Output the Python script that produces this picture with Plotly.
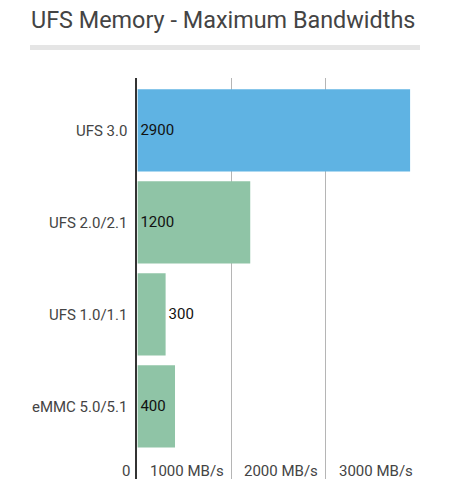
import plotly.graph_objects as go

categories = ["UFS 3.0", "UFS 2.0/2.1", "UFS 1.0/1.1", "eMMC 5.0/5.1"]
values = [2900, 1200, 300, 400]
bar_colors = ["#5fb3e3", "#8fc4a6", "#8fc4a6", "#8fc4a6"]
text_pos = ["inside", "inside", "outside", "inside"]
tick_vals = [0, 1000, 2000, 3000]
tick_labels = ["0", "1000 MB/s", "2000 MB/s", "3000 MB/s"]
title_text = "UFS Memory - Maximum Bandwidths"

W, H = 461, 502
px = lambda v: v / W
py = lambda v: 1 - v / H

fig = go.Figure()
fig.add_trace(go.Bar(
    y=categories, x=values, orientation="h",
    marker=dict(color=bar_colors, line=dict(width=0)),
    text=[str(v) for v in values], textposition=text_pos,
    insidetextanchor="start", constraintext="none",
    textfont=dict(family="Roboto", size=15, color="#111"),
    outsidetextfont=dict(family="Roboto", size=15, color="#111"),
    insidetextfont=dict(family="Roboto", size=15, color="#111"),
    cliponaxis=False, hoverinfo="skip",
))

annotations = []
for v, lab in zip(tick_vals, tick_labels):
    annotations.append(dict(
        x=v, xref="x", y=py(470.5), yref="paper",
        text=lab, showarrow=False, xanchor="right", yanchor="middle",
        xshift=-5, font=dict(family="Roboto", size=15, color="#444"),
    ))
annotations.append(dict(
    x=px(29), y=py(20), xref="paper", yref="paper", text=title_text,
    showarrow=False, xanchor="left", yanchor="middle",
    font=dict(family="Roboto", size=23.4, color="#444"),
))

fig.update_layout(
    width=W, height=H,
    margin=dict(l=0, r=0, t=0, b=0),
    paper_bgcolor="white", plot_bgcolor="white",
    showlegend=False, bargap=0.105,
    annotations=annotations,
    shapes=[dict(type="rect", xref="paper", yref="paper",
                 x0=px(30), x1=px(420), y0=py(50), y1=py(45),
                 fillcolor="#e5e5e5", line=dict(width=0), layer="below")],
    xaxis=dict(domain=[px(137.4), px(419.5)], range=[0, 3000],
               showgrid=True, gridcolor="#b5b5b5", gridwidth=1,
               tickvals=tick_vals[1:], showticklabels=False,
               zeroline=False, showline=False, fixedrange=True),
    yaxis=dict(domain=[py(479), py(78)], type="category",
               categoryarray=categories, range=[3.79, -0.57], autorange=False,
               showgrid=False, zeroline=False, fixedrange=True,
               showline=True, linecolor="#333", linewidth=2,
               ticks="", ticklabelstandoff=5,
               tickfont=dict(family="Roboto", size=15, color="#444")),
)

fig.write_html("out.html", config={"displayModeBar": False, "staticPlot": True},
               post_script="document.body.style.margin='0';document.body.style.overflow='hidden';")
